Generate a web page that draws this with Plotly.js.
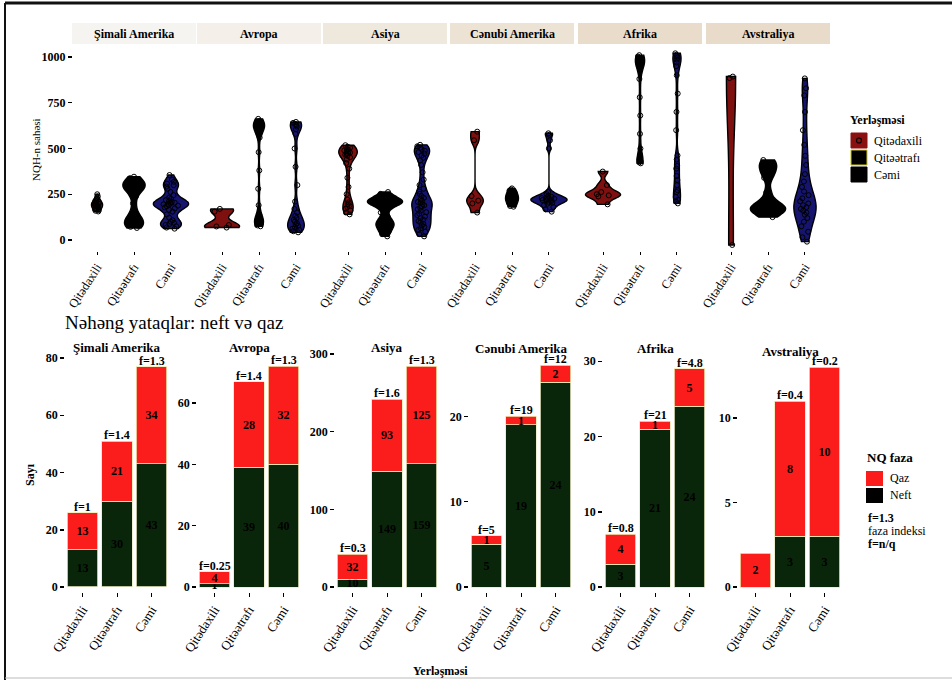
<!DOCTYPE html>
<html><head><meta charset="utf-8">
<script src="https://cdn.plot.ly/plotly-3.0.1.min.js"></script>
<style>html,body{margin:0;padding:0;background:#fff}</style>
</head><body><div id="chart" style="width:952px;height:680px"></div>
<script>
// ---------- DATA ----------
const regions = ['Şimali Amerika', 'Avropa', 'Asiya', 'Cənubi Amerika', 'Afrika', 'Avstraliya'];
const cats = ['Qitədaxili', 'Qitəətrafı', 'Cəmi'];

// NQH-n sahəsi (top violins)
const simaliAmerikaDaxili = [250, 238, 228, 220, 214, 210, 206, 202, 200, 198, 195, 192, 190, 187, 184, 180, 176, 172, 168, 164, 160, 156];
const simaliAmerikaEtrafi = [346, 338, 325, 315, 308, 302, 298, 294, 290, 285, 278, 265, 240, 200, 160, 135, 122, 112, 104, 96, 90, 84, 78, 72, 66];
const simaliAmerikaCemi = [355, 330, 318, 308, 300, 292, 280, 262, 245, 232, 224, 218, 213, 208, 204, 201, 198, 195, 192, 188, 184, 178, 172, 165, 155, 140, 122, 108, 100, 94, 88, 82, 75, 68, 62];
const avropaDaxili = [170, 155, 82, 74, 68];
const avropaEtrafi = [662, 650, 642, 636, 630, 624, 618, 610, 600, 588, 560, 480, 380, 280, 190, 140, 125, 112, 104, 96, 88, 80, 75];
const avropaCemi = [645, 640, 634, 628, 620, 605, 580, 500, 400, 300, 210, 170, 150, 132, 120, 110, 100, 92, 85, 78, 70, 62, 55, 48, 42];
const asiyaDaxili = [518, 510, 504, 498, 494, 490, 486, 482, 478, 474, 470, 466, 460, 452, 440, 420, 390, 340, 290, 250, 220, 205, 195, 188, 180, 170, 160, 150, 140];
const asiyaEtrafi = [262, 252, 242, 234, 228, 223, 219, 216, 213, 210, 208, 206, 204, 202, 200, 197, 193, 185, 170, 150, 128, 115, 106, 98, 92, 86, 80, 74, 66, 56, 45, 32, 20];
const asiyaCemi = [520, 512, 504, 496, 488, 480, 472, 462, 450, 435, 410, 370, 330, 300, 280, 265, 252, 240, 230, 222, 215, 208, 202, 196, 190, 184, 176, 168, 160, 152, 144, 136, 128, 120, 112, 104, 96, 88, 80, 72, 64, 55, 45, 32, 20];
const cenubiAmerikaDaxili = [592, 545, 240, 215, 200, 150];
const cenubiAmerikaEtrafi = [282, 276, 270, 264, 258, 252, 246, 240, 236, 232, 228, 224, 220, 216, 210, 204, 198, 192, 186, 182];
const cenubiAmerikaCemi = [583, 575, 545, 500, 262, 250, 242, 236, 232, 229, 226, 223, 220, 218, 215, 212, 208, 204, 198, 190, 180, 168, 155];
const afrikaDaxili = [374, 300, 262, 250, 244, 238, 195];
const afrikaEtrafi = [1010, 1002, 995, 988, 982, 976, 968, 958, 940, 880, 780, 680, 580, 500, 450, 438, 430, 424, 419];
const afrikaCemi = [1020, 1012, 1004, 996, 986, 970, 950, 900, 800, 700, 600, 462, 440, 405, 390, 350, 328, 300, 272, 262, 235, 220, 210, 200];
const avstraliyaDaxili = [893, 885, -27];
const avstraliyaEtrafi = [437, 420, 395, 375, 340, 260, 205, 190, 180, 172, 166, 160, 148, 125];
const avstraliyaCemi = [883, 829, 790, 700, 600, 520, 460, 410, 360, 320, 290, 265, 245, 228, 212, 200, 190, 180, 170, 160, 150, 138, 120, 100, 75, 45, 15, -9];

// Sayı (bottom stacked bars): Neft, Qaz, faza indeksi
const neftSimaliAmerika = [13, 30, 43];
const qazSimaliAmerika = [13, 21, 34];
const fSimaliAmerika = ['f=1', 'f=1.4', 'f=1.3'];
const neftAvropa = [1, 39, 40];
const qazAvropa = [4, 28, 32];
const fAvropa = ['f=0.25', 'f=1.4', 'f=1.3'];
const neftAsiya = [10, 149, 159];
const qazAsiya = [32, 93, 125];
const fAsiya = ['f=0.3', 'f=1.6', 'f=1.3'];
const neftCenubiAmerika = [5, 19, 24];
const qazCenubiAmerika = [1, 1, 2];
const fCenubiAmerika = ['f=5', 'f=19', 'f=12'];
const neftAfrika = [3, 21, 24];
const qazAfrika = [4, 1, 5];
const fAfrika = ['f=0.8', 'f=21', 'f=4.8'];
const neftAvstraliya = [0, 3, 3];
const qazAvstraliya = [2, 8, 10];
const fAvstraliya = ['', 'f=0.4', 'f=0.2'];

// ---------- LAYOUT / STYLE ----------
const SERIF = 'Liberation Serif, Times New Roman, serif';
const W = 952, H = 680;
const fx = x => x / W, fy = y => 1 - y / H;

const violinSets = [
  [simaliAmerikaDaxili, simaliAmerikaEtrafi, simaliAmerikaCemi],
  [avropaDaxili, avropaEtrafi, avropaCemi],
  [asiyaDaxili, asiyaEtrafi, asiyaCemi],
  [cenubiAmerikaDaxili, cenubiAmerikaEtrafi, cenubiAmerikaCemi],
  [afrikaDaxili, afrikaEtrafi, afrikaCemi],
  [avstraliyaDaxili, avstraliyaEtrafi, avstraliyaCemi]
];
// drawn max width of each violin (category units) and kernel bandwidth (style)
const violinWidths = [[0.3, 0.6, 0.95], [0.95, 0.3, 0.45], [0.5, 0.95, 0.55], [0.45, 0.35, 0.98], [0.95, 0.25, 0.22], [0.25, 0.95, 0.6]];
const violinBw = [[null, 30, 20], [25, 30, 30], [30, 20, 25], [25, null, 15], [20, 40, 40], [320, 30, 60]];

const barSets = [
  [neftSimaliAmerika, qazSimaliAmerika, fSimaliAmerika],
  [neftAvropa, qazAvropa, fAvropa],
  [neftAsiya, qazAsiya, fAsiya],
  [neftCenubiAmerika, qazCenubiAmerika, fCenubiAmerika],
  [neftAfrika, qazAfrika, fAfrika],
  [neftAvstraliya, qazAvstraliya, fAvstraliya]
];

const topCenters = [134, 259, 385, 512, 640, 768];
const botCenters = [117, 249, 387, 521, 655, 790];
const botRanges = [[-1.75, 82.8], [-1.63, 77.3], [-6.4, 305.1], [-0.586, 27.78], [-0.665, 31.5], [-0.296, 14.02]];
const botDtick = [20, 20, 100, 10, 10, 5];
const violinFill = ['#7e1010', '#000000', '#151570'];
const stripFill = ['#f6f4f0', '#f4f0e9', '#efe8dc', '#ece3d4', '#eadccb', '#e9dbc9'];

const traces = [];
const layout = {
  width: W, height: H,
  margin: {l: 0, r: 0, t: 0, b: 0},
  paper_bgcolor: '#fff', plot_bgcolor: '#fff',
  showlegend: false,
  barmode: 'stack', bargap: 0.13,
  violinmode: 'overlay',
  uniformtext: {mode: 'show', minsize: 12},
  font: {family: SERIF, color: '#000'},
  shapes: [], annotations: []
};

layout.yaxis = {
  domain: [fy(251), fy(46)], range: [-60, 1060], anchor: 'x',
  tickvals: [0, 250, 500, 750, 1000], ticks: 'outside', ticklen: 4, tickcolor: '#000', tickwidth: 1.5,
  showgrid: false, zeroline: false, showline: false,
  tickfont: {family: SERIF, size: 12, color: '#000', weight: 'bold'}
};

violinSets.forEach((set, i) => {
  const xname = i === 0 ? 'xaxis' : 'xaxis' + (i + 1);
  const xref = i === 0 ? 'x' : 'x' + (i + 1);
  const c = topCenters[i];
  layout[xname] = {
    domain: [fx(c - 61), fx(c + 61)], anchor: 'y', type: 'category',
    categoryorder: 'array', categoryarray: cats, range: [-0.65, 2.65],
    ticks: 'outside', ticklen: 3, tickcolor: '#000', tickangle: -57,
    tickfont: {family: SERIF, size: 12.5, color: '#000'},
    showgrid: false, zeroline: false, showline: false
  };
  set.forEach((vals, j) => {
    const tr = {
      type: 'violin', x: vals.map(() => cats[j]), y: vals,
      xaxis: xref, yaxis: 'y',
      spanmode: 'hard', width: violinWidths[i][j],
      points: 'all', pointpos: 0, jitter: 0.5,
      fillcolor: violinFill[j], line: {color: '#000', width: 1.4},
      marker: {symbol: 'circle-open', size: 5, color: '#000', line: {width: 1}},
      box: {visible: false}, meanline: {visible: false},
      hoverinfo: 'skip', showlegend: false
    };
    if (violinBw[i][j]) tr.bandwidth = violinBw[i][j];
    traces.push(tr);
  });
  layout.shapes.push({type: 'rect', xref: 'paper', yref: 'paper', x0: fx(c - 62), x1: fx(c + 62), y0: fy(44), y1: fy(23),
    fillcolor: stripFill[i], line: {width: 0}, layer: 'below'});
  layout.annotations.push({xref: 'paper', yref: 'paper', x: fx(c), y: fy(34), text: regions[i], showarrow: false,
    font: {family: SERIF, size: 12, color: '#000', weight: 'bold'}, xanchor: 'center', yanchor: 'middle'});
});

const botTitleY = [347, 347, 347, 348, 349, 351];
barSets.forEach((set, i) => {
  const [neft, qaz, fl] = set;
  const xa = 'x' + (7 + i), ya = 'y' + (2 + i);
  const c = botCenters[i];
  layout['xaxis' + (7 + i)] = {
    domain: [fx(c - 51.75), fx(c + 51.75)], anchor: ya, type: 'category',
    categoryorder: 'array', categoryarray: cats, range: [-0.5, 2.5],
    ticks: 'outside', ticklen: 4, tickcolor: '#000', tickangle: -57,
    tickfont: {family: SERIF, size: 13, color: '#000'},
    showgrid: false, zeroline: false, showline: false
  };
  layout['yaxis' + (2 + i)] = {
    domain: [fy(592), fy(350)], anchor: xa, range: botRanges[i], dtick: botDtick[i], tick0: 0,
    ticks: 'outside', ticklen: 4, tickcolor: '#000', tickwidth: 1.5,
    showgrid: false, zeroline: false, showline: false,
    tickfont: {family: SERIF, size: 12, color: '#000', weight: 'bold'}
  };
  const common = {type: 'bar', x: cats, xaxis: xa, yaxis: ya, textposition: 'inside', insidetextanchor: 'middle',
    textangle: 0, hoverinfo: 'skip', showlegend: false, cliponaxis: false,
    textfont: {family: SERIF, size: 12, color: '#000', weight: 'bold'}};
  traces.push(Object.assign({}, common, {y: neft, text: neft.map(v => v > 0 ? String(v) : ''),
    marker: {color: '#0a260a', line: {color: '#e8e8c4', width: 0.8}}}));
  traces.push(Object.assign({}, common, {y: qaz, text: qaz.map(v => v > 0 ? String(v) : ''),
    marker: {color: '#fb1c1c', line: {color: '#f0e8b0', width: 0.8}}}));
  cats.forEach((cat, j) => {
    if (!fl[j]) return;
    layout.annotations.push({xref: xa, yref: ya, x: cat, y: neft[j] + qaz[j], text: fl[j], showarrow: false,
      yanchor: 'bottom', xanchor: 'center', yshift: -3,
      font: {family: SERIF, size: 12, color: '#000', weight: 'bold'}});
  });
  layout.annotations.push({xref: 'paper', yref: 'paper', x: fx(c), y: fy(botTitleY[i]), text: regions[i], showarrow: false,
    xanchor: 'center', yanchor: 'middle', font: {family: SERIF, size: 13, color: '#000', weight: 'bold'}});
});

const ann = (x, y, text, size, opts) => layout.annotations.push(Object.assign({xref: 'paper', yref: 'paper',
  x: fx(x), y: fy(y), text: text, showarrow: false, xanchor: 'left', yanchor: 'middle',
  font: {family: SERIF, size: size, color: '#000'}}, opts || {}));
ann(36, 150, 'NQH-n sahəsi', 11, {textangle: -90, xanchor: 'center'});
ann(63, 322, 'Nəhəng yataqlar: neft və qaz', 19);
ann(30, 475, 'Sayı', 12, {textangle: -90, xanchor: 'center', font: {family: SERIF, size: 12, color: '#000', weight: 'bold'}});
ann(440, 671, 'Yerləşməsi', 12, {xanchor: 'center', font: {family: SERIF, size: 12, color: '#000', weight: 'bold'}});

ann(848, 120, 'Yerləşməsi', 12, {font: {family: SERIF, size: 12, color: '#000', weight: 'bold'}});
const legTop = [[133, '#8b1010', '#8b1010'], [150, '#000', '#c9c21e'], [167, '#000', '#000']];
legTop.forEach((k, j) => {
  layout.shapes.push({type: 'rect', xref: 'paper', yref: 'paper', x0: fx(851), x1: fx(867), y0: fy(k[0] + 15), y1: fy(k[0]),
    fillcolor: k[1], line: {color: k[2], width: 1}});
  ann(872, k[0] + 8, cats[j], 12);
});
layout.shapes.push({type: 'circle', xref: 'paper', yref: 'paper', x0: fx(856.5), x1: fx(861.5), y0: fy(143), y1: fy(138),
  fillcolor: 'rgba(0,0,0,0)', line: {color: '#000', width: 1.2}});

ann(865, 457, 'NQ faza', 13, {font: {family: SERIF, size: 13, color: '#000', weight: 'bold'}});
layout.shapes.push({type: 'rect', xref: 'paper', yref: 'paper', x0: fx(866), x1: fx(883), y0: fy(486), y1: fy(471), fillcolor: '#fb1c1c', line: {width: 0}});
layout.shapes.push({type: 'rect', xref: 'paper', yref: 'paper', x0: fx(866), x1: fx(883), y0: fy(503), y1: fy(488), fillcolor: '#000', line: {width: 0}});
ann(888, 478, 'Qaz', 12);
ann(888, 495, 'Neft', 12);
ann(866, 518, 'f=1.3', 12, {font: {family: SERIF, size: 12, color: '#000', weight: 'bold'}});
ann(866, 531, 'faza indeksi', 12);
ann(866, 544, 'f=n/q', 12, {font: {family: SERIF, size: 12, color: '#000', weight: 'bold'}});

layout.shapes.push({type: 'line', xref: 'paper', yref: 'paper', x0: fx(5), x1: fx(952), y0: fy(3), y1: fy(3), line: {color: '#111', width: 3}});
layout.shapes.push({type: 'line', xref: 'paper', yref: 'paper', x0: fx(5), x1: fx(5), y0: fy(3), y1: fy(680), line: {color: '#111', width: 2}});
layout.shapes.push({type: 'line', xref: 'paper', yref: 'paper', x0: fx(5), x1: fx(952), y0: fy(678), y1: fy(678), line: {color: '#bbb', width: 1}});

Plotly.newPlot('chart', traces, layout, {staticPlot: true, displayModeBar: false});
</script>
</body></html>
